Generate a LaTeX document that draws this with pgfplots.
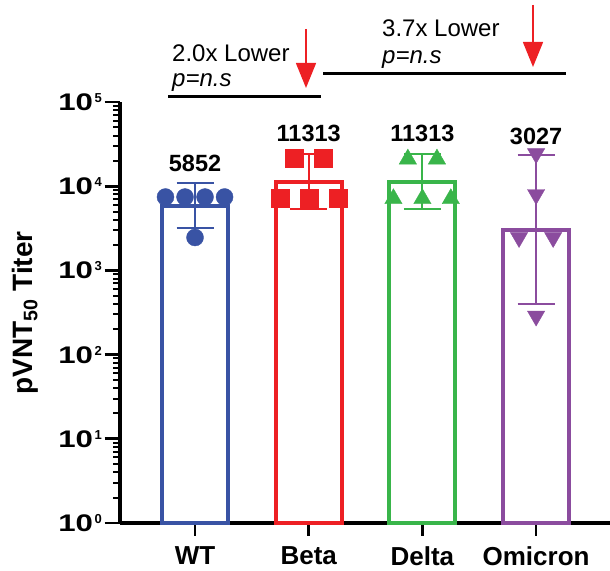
\documentclass[border=0pt]{standalone}
\usepackage{pgfplots}
\pgfplotsset{compat=1.18}
\usetikzlibrary{arrows.meta}
\usepackage{fontspec}
\setmainfont{Liberation Sans}
\definecolor{cblue}{HTML}{3953A4}
\definecolor{cred}{HTML}{ED2024}
\definecolor{cgreen}{HTML}{39B54A}
\definecolor{cpurple}{HTML}{8B4C9E}
\newcommand{\tl}[1]{\textbf{\scalebox{1.3}[1]{10}\hspace{1.5pt}\raisebox{8pt}{\fontsize{13}{13}\selectfont #1}}}
\begin{document}
\begin{tikzpicture}
\useasboundingbox (-120pt,-47pt) rectangle (490pt,523pt);
\begin{axis}[
  at={(0pt,0pt)}, anchor=south west,
  scale only axis, width=490pt, height=421pt,
  ymode=log, ymin=1, ymax=1e5,
  xmin=-0.66, xmax=3.65,
  axis x line*=bottom, axis y line*=left,
  axis line style={line width=3.4pt, black},
  clip=false,
  xtick align=outside, ytick align=inside,
  major tick length=13pt,
  xtick style={black, line width=2.6pt},
  ytick style={draw=none},
  every minor tick/.style={draw=none},
  xtick={0,1,2,3}, xticklabels={WT,Beta,Delta,Omicron},
  xticklabel style={font=\bfseries\fontsize{26}{28}\selectfont, inner sep=0pt, text depth=0pt, yshift=-10pt},
  ytick={1,10,100,1000,10000,100000},
  yticklabels={\tl{0},\tl{1},\tl{2},\tl{3},\tl{4},\tl{5}},
  yticklabel style={font=\fontsize{24}{28}\selectfont, inner sep=0pt, anchor=base east, xshift=-18pt, yshift=-8.5pt},
  ylabel={pVNT\textsubscript{50} Titer},
  ylabel style={font=\bfseries\fontsize{28}{30}\selectfont, at={(axis description cs:-0.194,0.499)}, anchor=center},
]
% bars
\addplot[ybar, bar shift=0pt, bar width=66pt, draw=cblue, line width=4pt, fill=white] coordinates {(0,5852)};
\addplot[ybar, bar shift=0pt, bar width=66pt, draw=cred, line width=4pt, fill=white] coordinates {(1,11313)};
\addplot[ybar, bar shift=0pt, bar width=66pt, draw=cgreen, line width=4pt, fill=white] coordinates {(2,11313)};
\addplot[ybar, bar shift=0pt, bar width=66pt, draw=cpurple, line width=4pt, fill=white] coordinates {(3,3027)};
% error bars
\addplot[cblue, line width=2pt] coordinates {(0,3190) (0,10900)};
\addplot[cblue, line width=2pt] coordinates {(-0.163,10900) (0.163,10900)};
\addplot[cblue, line width=2pt] coordinates {(-0.163,3190) (0.163,3190)};
\addplot[cred, line width=2pt] coordinates {(1,5360) (1,24100)};
\addplot[cred, line width=2pt] coordinates {(0.837,24100) (1.163,24100)};
\addplot[cred, line width=2pt] coordinates {(0.837,5360) (1.163,5360)};
\addplot[cgreen, line width=2pt] coordinates {(2,5360) (2,24100)};
\addplot[cgreen, line width=2pt] coordinates {(1.837,24100) (2.163,24100)};
\addplot[cgreen, line width=2pt] coordinates {(1.837,5360) (2.163,5360)};
\addplot[cpurple, line width=2pt] coordinates {(3,399) (3,23500)};
\addplot[cpurple, line width=2pt] coordinates {(2.837,23500) (3.163,23500)};
\addplot[cpurple, line width=2pt] coordinates {(2.837,399) (3.163,399)};
% points
\addplot[only marks, mark=*, mark size=8.5pt, cblue] coordinates {(-0.26,7440) (-0.088,7440) (0.088,7440) (0.26,7440) (0,2460)};
\addplot[only marks, mark=square*, mark size=9pt, cred] coordinates {(0.872,21600) (1.128,21600) (0.745,7240) (1,7240) (1.255,7240)};
\addplot[only marks, mark=triangle*, mark size=10pt, cgreen] coordinates {(1.872,21000) (2.128,21000) (1.745,7100) (2,7100) (2.25,7100)};
\addplot[only marks, mark=triangle*, mark size=10pt, mark options={rotate=180}, cpurple] coordinates {(3,24400) (3,7970) (2.85,2460) (3.15,2460) (3,287)};
% labels
\node[anchor=base, font=\bfseries\fontsize{23.5}{26}\selectfont] at (axis cs:0,14750) {5852};
\node[anchor=base, font=\bfseries\fontsize{23.5}{26}\selectfont] at (axis cs:1,33500) {11313};
\node[anchor=base, font=\bfseries\fontsize{23.5}{26}\selectfont] at (axis cs:2,33500) {11313};
\node[anchor=base, font=\bfseries\fontsize{23.5}{26}\selectfont] at (axis cs:3,31700) {3027};
\end{axis}
% y axis ticks: 84.2pt per decade, axis line at x=0
\foreach \d in {0,...,5} {
  \draw[black, line width=2.8pt] (-15.5pt,{\d*84.2pt}) -- (0pt,{\d*84.2pt});
}
\foreach \d in {0,...,4} {
  \foreach \m in {25.35,40.17,50.69,58.85,65.52,71.16,76.04,80.35} {
    \draw[black, line width=2pt] (-7pt,{(\d*84.2+\m)*1pt}) -- (0pt,{(\d*84.2+\m)*1pt});
  }
}
% annotations
\draw[line width=3pt] (48pt,426pt) -- (201pt,426pt);
\draw[line width=3pt] (203pt,449pt) -- (446pt,449pt);
\draw[cred, line width=1.5pt, -{Triangle[width=20pt,length=25pt]}] (186pt,494pt) -- (186pt,435pt);
\draw[cred, line width=1.5pt, -{Triangle[width=20pt,length=25pt]}] (413pt,518pt) -- (413pt,456pt);
\node[anchor=base west, inner sep=0pt, font=\fontsize{24}{26}\selectfont] at (52pt,461pt) {2.0x Lower};
\node[anchor=base west, inner sep=0pt, font=\fontsize{24}{26}\selectfont\itshape] at (52pt,436pt) {p=n.s};
\node[anchor=base west, inner sep=0pt, font=\fontsize{24}{26}\selectfont] at (262pt,486pt) {3.7x Lower};
\node[anchor=base west, inner sep=0pt, font=\fontsize{24}{26}\selectfont\itshape] at (262pt,459pt) {p=n.s};
\end{tikzpicture}
\end{document}
